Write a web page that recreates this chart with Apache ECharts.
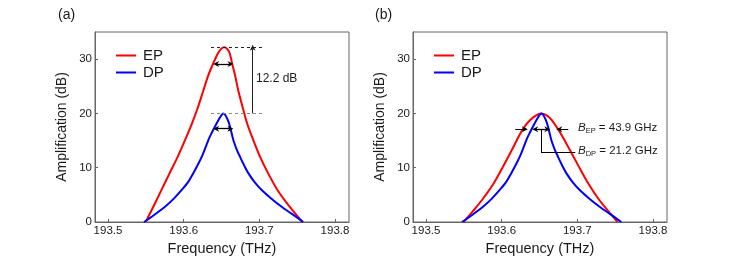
<!DOCTYPE html>
<html><head><meta charset="utf-8">
<script src="https://cdn.jsdelivr.net/npm/echarts@6/dist/echarts.min.js"></script>
<style>html,body{margin:0;padding:0;background:#fff}#c{width:741px;height:275px}</style>
</head><body><div id="c"></div>
<script>
// ---- data ----
const xTicks = [193.5, 193.6, 193.7, 193.8];
const yTicks = [0, 10, 20, 30];
const epAfreq = [193.5498,193.5605,193.5710,193.5815,193.5920,193.6015,193.6105,193.6185,193.6255,193.6325,193.6390,193.6450,193.6495,193.6535,193.6575,193.6610,193.6640,193.6680,193.6720,193.6778,193.6840,193.6920,193.7010,193.7115,193.7235,193.7390,193.7568];
const epAvals = [0,3,6,9,12,15,18,21,24,27,29.2,31.0,31.9,32.2,31.9,31.0,29.2,27.0,24.3,21.2,18.1,15.1,12.0,9.0,6.0,3.0,0];
const dpFreq = [193.5476,193.560,193.5753,193.5870,193.5974,193.6060,193.6127,193.6185,193.6238,193.6285,193.6326,193.6370,193.6414,193.6460,193.6500,193.6524,193.6545,193.6580,193.6612,193.6656,193.6700,193.6745,193.6800,193.6854,193.6940,193.7031,193.7160,193.7295,193.7440,193.7580];
const dpVals = [0,1.2,2.8,4.3,5.9,7.4,9.0,10.5,12.0,13.6,15.1,16.4,17.6,18.8,19.7,20.0,19.8,18.9,17.6,15.1,13.4,12.0,10.4,9.0,7.3,5.9,4.3,2.8,1.4,0];
const epBfreq = [193.5498,193.562,193.574,193.5893,193.6010,193.6136,193.6246,193.6320,193.6378,193.645,193.652,193.659,193.666,193.678,193.690,193.702,193.7145,193.729,193.741,193.7531];
const epBvals = [0,2.0,4.05,7.1,10.0,13.3,16.3,17.9,18.8,19.6,20.0,19.7,18.8,16.3,13.3,10.2,7.1,4.05,2.0,0];
// annotation values
const epPeakA = 32.2, dpPeak = 20.0;
const gainDiffText = '12.2 dB';
const bwEP = '43.9', bwDP = '21.2';

const zip = (a, b) => a.map((v, i) => [v, b[i]]);
const RED = '#ff0000', BLUE = '#0000ff', INK = '#1a1a1a', AX = '#666';
const FONT = 'Liberation Sans, Arial, sans-serif';

function xAx(g) {
  return {
    type: 'value', gridIndex: g, min: 193.4828, max: 193.8185,
    name: 'Frequency (THz)', nameLocation: 'middle', nameGap: 19,
    nameTextStyle: { fontSize: 14.5, color: INK, fontFamily: FONT },
    axisLine: { show: true, lineStyle: { color: AX, width: 1 } },
    axisTick: { show: true, inside: true, length: 3, customValues: xTicks, lineStyle: { color: AX } },
    axisLabel: { customValues: xTicks, formatter: v => v.toFixed(1), fontSize: 11.5, color: INK, margin: 3, fontFamily: FONT },
    splitLine: { show: false }
  };
}
function yAx(g) {
  return {
    type: 'value', gridIndex: g, min: 0, max: 35,
    name: 'Amplification (dB)', nameLocation: 'middle', nameGap: 26,
    nameTextStyle: { fontSize: 14, color: INK, fontFamily: FONT },
    axisLine: { show: true, lineStyle: { color: AX, width: 1 } },
    axisTick: { show: true, inside: true, length: 3, customValues: yTicks, lineStyle: { color: AX } },
    axisLabel: { customValues: yTicks, fontSize: 11.5, color: INK, margin: 3, fontFamily: FONT },
    splitLine: { show: false }
  };
}
const arrowUp = 'path://M5,0 L10,10 L5,7 L0,10 Z';
function seg(p1, p2, color, type, s1, s2, w) {
  return [
    { coord: p1, symbol: s1 || 'none', symbolSize: [6, 6], lineStyle: { color: color, type: type || 'solid', width: w || 1 } },
    { coord: p2, symbol: s2 || 'none', symbolSize: [6, 6] }
  ];
}
function line(name, data, color, g, ml) {
  const s = {
    name: name, type: 'line', xAxisIndex: g, yAxisIndex: g, data: data,
    symbol: 'none', showSymbol: false, smooth: 0.3, lineStyle: { color: color, width: 2 }, itemStyle: { color: color },
    animation: false, z: 3
  };
  if (ml) s.markLine = { silent: true, animation: false, label: { show: false }, symbol: ['none', 'none'], data: ml, z: 4 };
  return s;
}
const mlA = [
  seg([193.6361, epPeakA], [193.7061, epPeakA], '#222', [3, 3]),
  seg([193.6361, dpPeak], [193.7061, dpPeak], '#888', [3, 3]),
  seg([193.6912, dpPeak], [193.6912, epPeakA - 0.1], '#222', 'solid', 'none', arrowUp),
  seg([193.6430, 29.1], [193.6618, 29.1], '#000', 'solid', arrowUp, arrowUp, 1.3),
  seg([193.6430, 17.2], [193.6618, 17.2], '#000', 'solid', arrowUp, arrowUp, 1.3)
];
const mlB = [
  seg([193.6180, 17.1], [193.6306, 17.1], '#000', 'solid', 'none', arrowUp),
  seg([193.6880, 17.1], [193.6762, 17.1], '#000', 'solid', 'none', arrowUp),
  seg([193.6444, 17.1], [193.6603, 17.1], '#000', 'solid', arrowUp, arrowUp, 1.3),
  seg([193.6520, 17.1], [193.6520, 12.83], '#000', 'solid'),
  seg([193.6520, 12.83], [193.6973, 12.83], '#000', 'solid')
];
const legendCommon = {
  orient: 'vertical', icon: 'rect', itemWidth: 20, itemHeight: 2, itemGap: 0, padding: 0,
  data: ['EP', 'DP'], selectedMode: false,
  textStyle: { fontSize: 15, lineHeight: 17, color: INK, fontFamily: FONT, padding: [0, 0, 0, 2] }
};
const richB = {
  b: { fontSize: 11.5, fontStyle: 'italic', fill: INK, fontFamily: FONT },
  s: { fontSize: 7.5, fill: INK, fontFamily: FONT, padding: [5, 0, 0, 0] },
  t: { fontSize: 11.5, fill: INK, fontFamily: FONT }
};

const chart = echarts.init(document.getElementById('c'), null, { renderer: 'canvas' });
chart.setOption({
  backgroundColor: '#fff',
  animation: false,
  textStyle: { fontFamily: FONT },
  grid: [
    { left: 95, top: 32, width: 254, height: 190, show: true, borderColor: AX, borderWidth: 1 },
    { left: 413, top: 32, width: 254, height: 190, show: true, borderColor: AX, borderWidth: 1 }
  ],
  xAxis: [xAx(0), xAx(1)],
  yAxis: [yAx(0), yAx(1)],
  legend: [
    Object.assign({ left: 116, top: 47 }, legendCommon),
    Object.assign({ left: 434, top: 47 }, legendCommon)
  ],
  graphic: [
    { type: 'text', left: 58, top: 8, style: { text: '(a)', fontSize: 14, fill: INK, fontFamily: FONT } },
    { type: 'text', left: 375, top: 8, style: { text: '(b)', fontSize: 14, fill: INK, fontFamily: FONT } },
    { type: 'text', left: 256, top: 73, style: { text: gainDiffText, fontSize: 12, fill: INK, fontFamily: FONT } },
    { type: 'text', left: 578, top: 122, style: { text: '{b|B}{s|EP}{t| = ' + bwEP + ' GHz}', rich: richB } },
    { type: 'text', left: 578, top: 145, style: { text: '{b|B}{s|DP}{t| = ' + bwDP + ' GHz}', rich: richB } }
  ],
  series: [
    line('EP', zip(epAfreq, epAvals), RED, 0, mlA),
    line('DP', zip(dpFreq, dpVals), BLUE, 0),
    line('EP', zip(epBfreq, epBvals), RED, 1, mlB),
    line('DP', zip(dpFreq, dpVals), BLUE, 1)
  ]
});
</script></body></html>
